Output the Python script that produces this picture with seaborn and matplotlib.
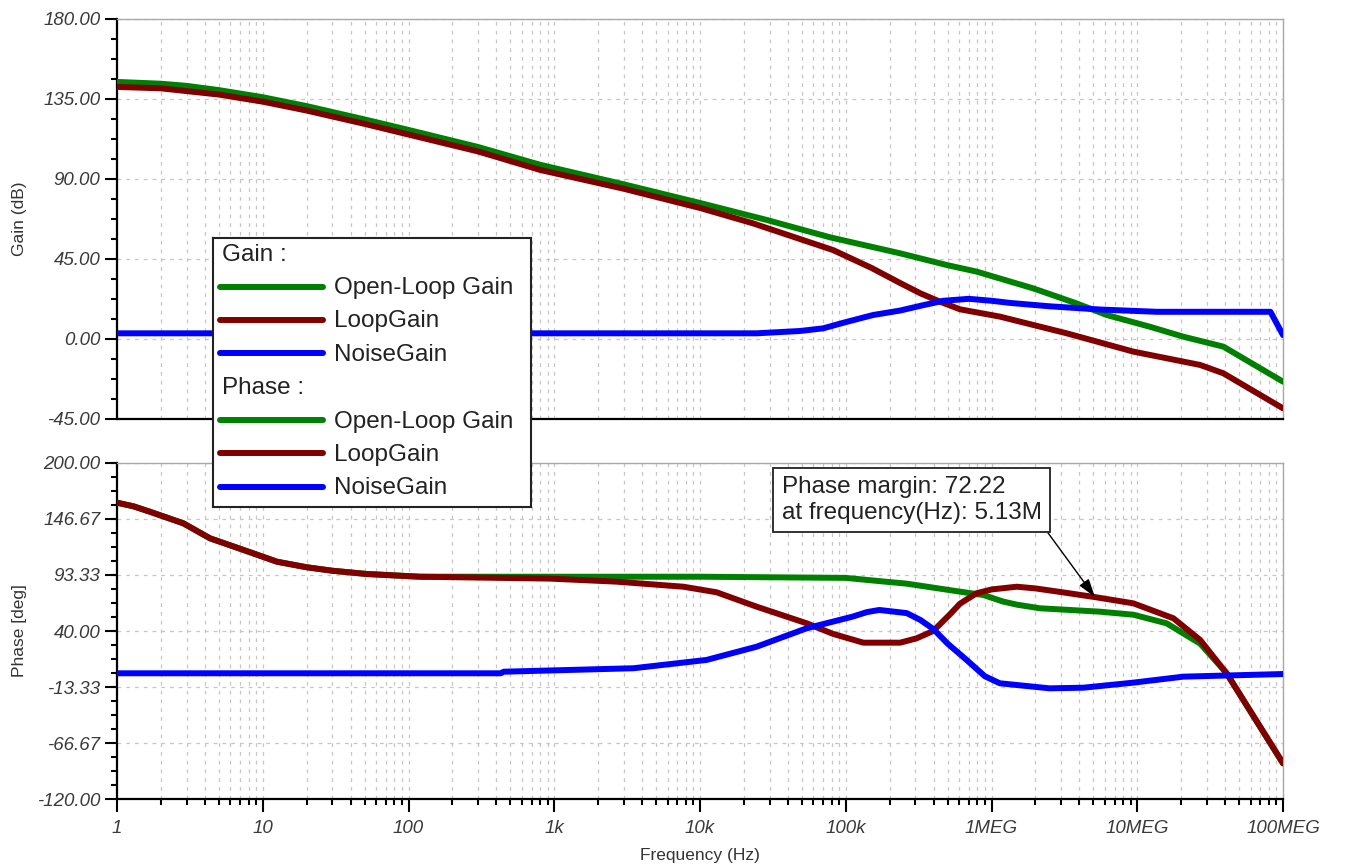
import numpy as np
import pandas as pd
import matplotlib
matplotlib.use("Agg")
import matplotlib.pyplot as plt
import matplotlib.ticker as mticker
import seaborn as sns

# ---------------------------------------------------------------- data
# Gain curves (dB)
gain_ol_freq = [1, 2, 3, 5, 10, 20, 50, 100, 300, 800, 3e3, 1e4, 2.86e4, 7.8e4,
                2.36e5, 5e5, 7.91e5, 1.93e6, 3.84e6, 6.17e6, 1.22e7, 2.07e7, 3.9e7, 1e8]
gain_ol_db = [144.6, 143.6, 142.4, 140.0, 136.0, 131.0, 123.5, 117.6, 108.0, 98.0,
              87.0, 76.5, 67.0, 57.2, 48.2, 41.5, 37.9, 28.5, 20.0, 13.5, 6.9, 1.3, -4.3, -24.0]

gain_loop_freq = [1, 2, 5, 10, 20, 50, 100, 300, 800, 3e3, 1e4, 2.3e4, 8.2e4, 1.5e5,
                  2.36e5, 3.25e5, 4.43e5, 6.08e5, 1.14e6, 3.28e6, 9.4e6, 2.7e7, 3.9e7, 1e8]
gain_loop_db = [141.8, 141.0, 137.5, 133.5, 128.5, 121.0, 115.0, 105.5, 95.1, 84.5,
                73.7, 65.1, 50.0, 40.0, 31.5, 25.7, 21.0, 16.7, 12.6, 3.2, -7.1, -14.6, -19.3, -39.0]

gain_noise_freq = [1, 2.45e4, 4.85e4, 7e4, 1e5, 1.54e5, 2.36e5, 3.39e5, 4.67e5, 7e5,
                   1e6, 1.34e6, 2.5e6, 5.5e6, 1.36e7, 8.2e7, 1e8]
gain_noise_db = [3.2, 3.2, 4.5, 6.0, 9.5, 13.5, 16.0, 19.0, 21.5, 22.6,
                 21.5, 20.3, 18.4, 16.6, 15.3, 15.3, 2.2]

# Phase curves (deg)
phase_ol_freq = [1, 1.3, 1.68, 2.85, 4.35, 7.4, 12.5, 20, 30, 51.6, 120, 1e3, 1e4, 1e5,
                 1.54e5, 2.62e5, 6.08e5, 8.8e5, 1.2e6, 1.5e6, 2.15e6, 5.5e6, 9.4e6,
                 1.59e7, 2.7e7, 4.1e7, 1e8]
phase_ol_deg = [162.0, 158.5, 153.4, 142.4, 128.1, 117.0, 105.9, 100.6, 97.3, 94.2,
                91.6, 91.6, 91.6, 90.5, 88.0, 85.0, 77.4, 74.2, 68.0, 65.0, 61.6, 58.4,
                55.5, 47.3, 28.0, 0.0, -86.0]

phase_loop_freq = [1, 1.3, 1.68, 2.85, 4.35, 7.4, 12.5, 20, 30, 51.6, 120, 935, 2.68e3,
                   7.7e3, 1.3e4, 2.45e4, 5.4e4, 8.2e4, 1.32e5, 2.36e5, 3.06e5, 3.98e5,
                   5.2e5, 6.08e5, 7.91e5, 1e6, 1.49e6, 2e6, 3e6, 5.13e6, 9.4e6, 1.77e7,
                   2.7e7, 4.1e7, 1e8]
phase_loop_deg = [162.0, 158.5, 153.4, 142.4, 128.1, 117.0, 105.9, 100.6, 97.3, 94.2,
                  91.6, 89.8, 86.9, 82.1, 76.8, 63.1, 47.3, 37.2, 28.9, 28.9, 33.0, 40.0,
                  56.0, 66.0, 75.9, 79.5, 82.1, 80.5, 77.0, 72.22, 66.3, 52.1,
                  31.5, -0.2, -85.7]

phase_noise_freq = [1, 430, 450, 3.5e3, 1.11e4, 2.45e4, 5.4e4, 1.11e5, 1.4e5, 1.7e5,
                    2.62e5, 3.25e5, 3.98e5, 5e5, 6.76e5, 9e5, 1.14e6, 2.5e6, 4.27e6,
                    9.4e6, 2.07e7, 1e8]
phase_noise_deg = [-0.2, -0.2, 1.3, 4.6, 12.5, 25.1, 42.6, 53.6, 58.0, 60.0,
                   57.0, 50.5, 42.0, 28.0, 12.4, -3.0, -9.7, -14.5, -13.9,
                   -9.1, -3.4, -0.9]

series_names = ["Open-Loop Gain", "LoopGain", "NoiseGain"]
series_colors = ["#008000", "#800000", "#0000ff"]

gain_ticks = [-45.0, 0.0, 45.0, 90.0, 135.0, 180.0]
phase_ticks = [-120.00, -66.67, -13.33, 40.00, 93.33, 146.67, 200.00]
freq_ticks = [1, 10, 100, 1e3, 1e4, 1e5, 1e6, 1e7, 1e8]
freq_labels = ["1", "10", "100", "1k", "10k", "100k", "1MEG", "10MEG", "100MEG"]

pm_value = 72.22
pm_freq = 5.13e6

# ---------------------------------------------------------------- style
sns.set_style("white")
plt.rcParams["font.family"] = ["Liberation Sans", "DejaVu Sans"]

W, H = 1358, 865
fig = plt.figure(figsize=(W / 100, H / 100), dpi=100)
fig.patch.set_facecolor("white")


def fx(px):
    return px / W


def fy(py):
    return 1 - py / H


ax_gain = fig.add_axes([fx(117), fy(419), fx(1283 - 117), (419 - 19) / H])
ax_phase = fig.add_axes([fx(117), fy(799.3), fx(1283 - 117), (799.3 - 462.7) / H])

gain_data = [(gain_ol_freq, gain_ol_db), (gain_loop_freq, gain_loop_db),
             (gain_noise_freq, gain_noise_db)]
phase_data = [(phase_ol_freq, phase_ol_deg), (phase_loop_freq, phase_loop_deg),
              (phase_noise_freq, phase_noise_deg)]

LW = 4.3
for ax, data in ((ax_gain, gain_data), (ax_phase, phase_data)):
    for (f, v), name, col in zip(data, series_names, series_colors):
        df = pd.DataFrame({"freq": f, "val": v})
        sns.lineplot(data=df, x="freq", y="val", ax=ax, color=col, linewidth=LW,
                     legend=False, errorbar=None, zorder=3)

grid_kw = dict(linestyle=(0, (3, 4)), color="#c6c6c6", linewidth=0.9)
tick_color = "#3a3a3a"


def style_axes(ax, yticks, ylim):
    ax.set_xscale("log")
    ax.set_xlim(1, 1e8)
    ax.set_ylim(*ylim)
    ax.set_yticks(yticks)
    ax.set_yticklabels([f"{t:.2f}" for t in yticks], fontstyle="italic",
                       color=tick_color)
    ax.yaxis.set_minor_locator(mticker.AutoMinorLocator(4))
    ax.xaxis.set_major_locator(mticker.FixedLocator(freq_ticks))
    ax.xaxis.set_minor_locator(mticker.LogLocator(base=10, subs=np.arange(2, 10),
                                                  numticks=30))
    ax.xaxis.set_minor_formatter(mticker.NullFormatter())
    ax.grid(which="major", axis="both", **grid_kw)
    ax.grid(which="minor", axis="x", **grid_kw)
    ax.set_axisbelow(True)
    for s in ("top", "right"):
        ax.spines[s].set_color("#a8a8a8")
        ax.spines[s].set_linewidth(1.0)
    for s in ("left", "bottom"):
        ax.spines[s].set_color("black")
        ax.spines[s].set_linewidth(1.6)
    ax.tick_params(axis="y", which="major", direction="out", length=9, width=1.5,
                   color="black", labelsize=13.5, pad=3, left=True)
    ax.tick_params(axis="y", which="minor", direction="out", length=4, width=1.5,
                   color="black", left=True)
    ax.set_xlabel("")
    ax.set_ylabel("")


style_axes(ax_gain, gain_ticks, (-45, 180))
style_axes(ax_phase, phase_ticks, (-120, 200))

ax_gain.tick_params(axis="x", which="both", length=0, labelbottom=False)
ax_phase.set_xticklabels(freq_labels, fontstyle="italic", color=tick_color)
ax_phase.tick_params(axis="x", which="major", direction="out", length=9, width=1.5,
                     color="black", labelsize=13.5, pad=6, bottom=True)
ax_phase.tick_params(axis="x", which="minor", direction="out", length=4, width=1.5,
                     color="black", bottom=True)

lab_kw = dict(fontsize=12.5, color="#333333")
ax_gain.set_ylabel("Gain (dB)", **lab_kw)
ax_gain.yaxis.set_label_coords(-0.077, 0.5)
ax_phase.set_ylabel("Phase [deg]", **lab_kw)
ax_phase.yaxis.set_label_coords(-0.077, 0.5)
ax_phase.set_xlabel("Frequency (Hz)", **lab_kw)
ax_phase.xaxis.set_label_coords(0.5, -0.145)

# phase margin callout
ax_phase.annotate(
    f"Phase margin: {pm_value:.2f}\nat frequency(Hz): {pm_freq / 1e6:.2f}M",
    xy=(pm_freq, pm_value), xycoords="data",
    xytext=(781.5, H - 524), textcoords="figure pixels",
    ha="left", va="bottom", fontsize=17.5, color="#222222", linespacing=1.22,
    bbox=dict(boxstyle="square,pad=0.33", fc="white", ec="#222222", lw=1.3),
    arrowprops=dict(arrowstyle="-|>,head_length=0.8,head_width=0.25", color="black",
                    lw=1.0, shrinkA=0, shrinkB=0, relpos=(1, 0), mutation_scale=14),
    zorder=5,
)

# legend box spanning both panels
lx0, ly0, lx1, ly1 = 212.7, 238.3, 530.7, 506.7
ax_leg = fig.add_axes([fx(lx0), fy(ly1), fx(lx1 - lx0), (ly1 - ly0) / H])
ax_leg.set_xlim(0, lx1 - lx0)
ax_leg.set_ylim(ly1 - ly0, 0)
ax_leg.set_xticks([])
ax_leg.set_yticks([])
ax_leg.set_facecolor("white")
for s in ax_leg.spines.values():
    s.set_color("#222222")
    s.set_linewidth(1.5)
    s.set_visible(True)

row_step = 33.34
row0 = 16.5
for gi, header in enumerate(["Gain :", "Phase :"]):
    base = row0 + gi * 4 * row_step
    ax_leg.text(9, base, header, fontsize=17.5, color="#222222", va="center", ha="left")
    for k, (name, col) in enumerate(zip(series_names, series_colors)):
        yy = base + (k + 1) * row_step
        ax_leg.plot([7.3, 110.3], [yy - 1.5, yy - 1.5], color=col, linewidth=LW,
                    solid_capstyle="round")
        ax_leg.text(121.3, yy, name, fontsize=17.5, color="#222222", va="center",
                    ha="left")

fig.savefig("out.png", dpi=100, facecolor="white")
